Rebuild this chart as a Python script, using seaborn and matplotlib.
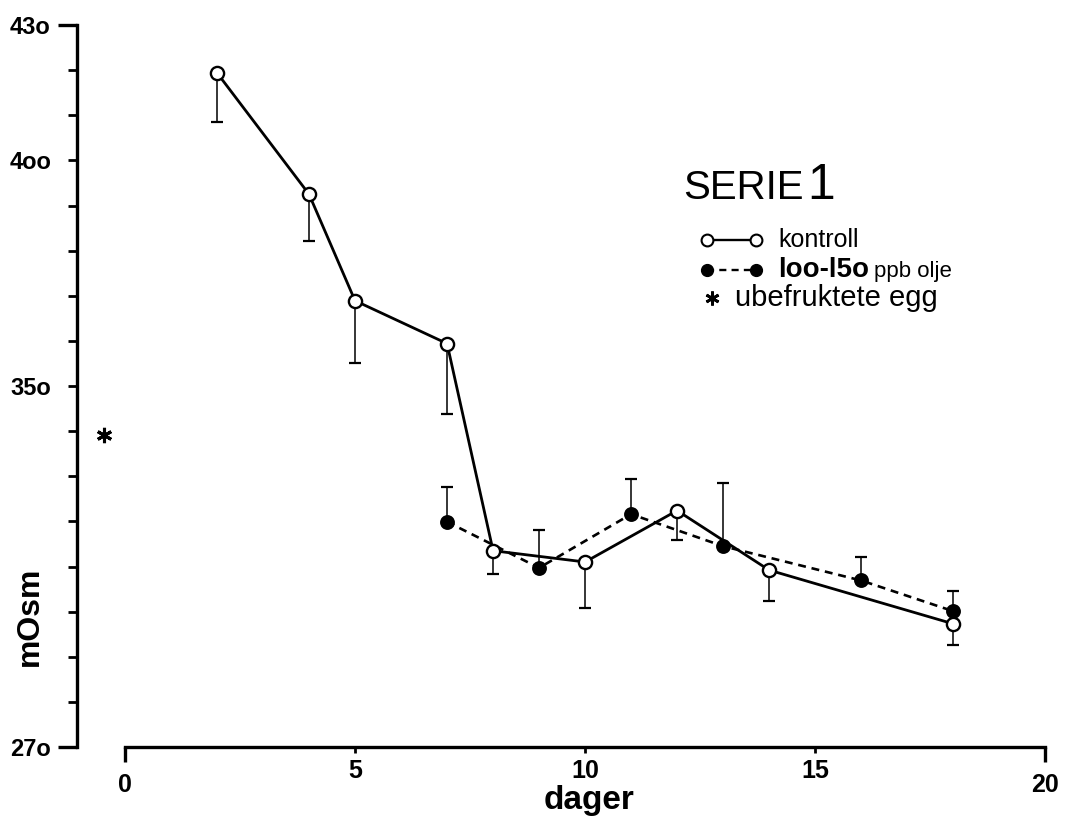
import matplotlib
matplotlib.use("Agg")
import matplotlib.pyplot as plt
import seaborn as sns
import pandas as pd
from matplotlib.lines import Line2D

# Osmolality of the control group (mean, downward SD bar)
kontroll_dager = [2, 4, 5, 7, 8, 10, 12, 14, 18]
kontroll_mosm = [419.4, 392.5, 368.9, 359.4, 313.5, 311.0, 322.4, 309.2, 297.3]
kontroll_sd = [10.8, 10.4, 13.9, 15.7, 5.2, 10.3, 6.6, 6.8, 4.7]

# Oil-exposed group, 100-150 ppb (mean, upward SD bar)
olje_dager = [7, 9, 11, 13, 16, 18]
olje_mosm = [319.9, 309.7, 321.6, 314.5, 306.9, 300.1]
olje_sd = [7.8, 8.3, 7.8, 14.1, 5.1, 4.4]

# Unfertilised eggs
egg_dag = [-0.45]
egg_mosm = [339.1]

x_major = [0, 20]
x_major_labels = ["0", "20"]
x_minor = [5, 10, 15]
x_minor_labels = ["5", "10", "15"]
y_major = [270, 430]
y_major_labels = ["27o", "43o"]
y_minor = list(range(280, 430, 10))
y_minor_labels = {400: "4oo", 350: "35o"}

sns.set_style("white")
plt.rcParams["font.family"] = ["Liberation Sans", "DejaVu Sans"]
plt.rcParams["text.color"] = "black"
plt.rcParams["axes.labelcolor"] = "black"
plt.rcParams["xtick.color"] = "black"
plt.rcParams["ytick.color"] = "black"
plt.rcParams["axes.edgecolor"] = "black"

W, H = 1068, 823
fig = plt.figure(figsize=(W / 100, H / 100), dpi=100)
ax_left, ax_right, ax_top, ax_bottom = 77, 1059, 25, 747
ax = fig.add_axes([ax_left / W, (H - ax_bottom) / H,
                   (ax_right - ax_left) / W, (ax_bottom - ax_top) / H])


def to_ax(px, py):
    return ((px - ax_left) / (ax_right - ax_left), (ax_bottom - py) / (ax_bottom - ax_top))


kontroll = pd.DataFrame({"dag": kontroll_dager, "mosm": kontroll_mosm, "sd": kontroll_sd})
olje = pd.DataFrame({"dag": olje_dager, "mosm": olje_mosm, "sd": olje_sd})

# one-sided error bars
ax.errorbar(kontroll["dag"], kontroll["mosm"], yerr=[kontroll["sd"], [0] * len(kontroll)],
            fmt="none", ecolor="black", elinewidth=1.1, capsize=4, capthick=1.6, zorder=2)
ax.errorbar(olje["dag"], olje["mosm"], yerr=[[0] * len(olje), olje["sd"]],
            fmt="none", ecolor="black", elinewidth=1.1, capsize=4, capthick=1.6, zorder=2)

sns.lineplot(data=olje, x="dag", y="mosm", ax=ax, color="black", lw=1.9,
             linestyle=(0, (3.0, 2.2)), marker="o", markersize=9.5,
             markerfacecolor="black", markeredgecolor="black", markeredgewidth=1.2, zorder=3)
sns.lineplot(data=kontroll, x="dag", y="mosm", ax=ax, color="black", lw=2.0,
             marker="o", markersize=9.5, markerfacecolor="white",
             markeredgecolor="black", markeredgewidth=1.7, zorder=4)
ax.plot(egg_dag, egg_mosm, linestyle="none", marker=(6, 2, 0), markersize=11,
        color="black", markeredgewidth=2.2)

ax.set_xlim(-1.043, 20.3)
ax.set_ylim(270, 430)

for s in ["top", "right"]:
    ax.spines[s].set_visible(False)
ax.spines["left"].set_linewidth(2.4)
ax.spines["bottom"].set_linewidth(2.4)
ax.spines["bottom"].set_bounds(0, 20)

tick_font = dict(fontsize=17, fontweight="bold")
ax.set_xticks(x_major, labels=x_major_labels, fontsize=18, fontweight="bold")
ax.set_xticks(x_minor, labels=x_minor_labels, minor=True, fontsize=18, fontweight="bold")
ax.set_yticks(y_major, labels=y_major_labels, **tick_font)
ax.set_yticks(y_minor, labels=[y_minor_labels.get(v, "") for v in y_minor], minor=True, **tick_font)

ax.tick_params(axis="x", which="major", direction="out", length=11, width=2.4, pad=8)
ax.tick_params(axis="x", which="minor", direction="out", length=4.5, width=2.0, pad=4)
ax.tick_params(axis="y", which="major", direction="out", length=14, width=2.4, pad=5)
ax.tick_params(axis="y", which="minor", direction="out", length=6.5, width=2.0, pad=12)
ax.tick_params(bottom=True, left=True, which="both")

ax.set_xlabel("dager", fontsize=24, fontweight="bold")
ax.xaxis.set_label_coords(*to_ax(589, 800))
ax.xaxis.label.set_va("center")
ax.set_ylabel("mOsm", fontsize=23, fontweight="bold")
ax.yaxis.set_label_coords(*to_ax(30, 616))
ax.yaxis.label.set_va("center")

# title and key
serie = ax.text(*to_ax(683, 199), "SERIE", transform=ax.transAxes, fontsize=29,
                ha="left", va="baseline")
fig.canvas.draw()
renderer = fig.canvas.get_renderer()
bb = serie.get_window_extent(renderer)
ax.text(*to_ax(bb.x1 + 4, 199), "1", transform=ax.transAxes, fontsize=36,
        ha="left", va="baseline")

rows = [240, 270, 298]
x0, x1 = to_ax(707, 0)[0], to_ax(756, 0)[0]
ky = to_ax(0, rows[0])[1]
ax.add_line(Line2D([x0, x1], [ky, ky], transform=ax.transAxes, color="black", lw=1.7,
                   marker="o", markersize=8.5, markerfacecolor="white", markeredgewidth=1.5))
ax.text(*to_ax(778, rows[0]), "kontroll", transform=ax.transAxes, fontsize=18,
        ha="left", va="center")
oy = to_ax(0, rows[1])[1]
ax.add_line(Line2D([x0, x1], [oy, oy], transform=ax.transAxes, color="black", lw=1.7,
                   linestyle=(0, (3.0, 2.2)), marker="o", markersize=8.5,
                   markerfacecolor="black"))
dose = ax.text(*to_ax(778, rows[1] + 7), "loo-l5o", transform=ax.transAxes, fontsize=20,
               fontweight="bold", ha="left", va="baseline")
bb = dose.get_window_extent(renderer)
ax.text(*to_ax(bb.x1 + 5, rows[1] + 7), "ppb olje", transform=ax.transAxes,
        fontsize=16, ha="left", va="baseline")
ax.plot(*to_ax(712, rows[2]), transform=ax.transAxes, linestyle="none", marker=(6, 2, 0),
        markersize=10, color="black", markeredgewidth=2.0)
ax.text(*to_ax(735, rows[2]), "ubefruktete egg", transform=ax.transAxes, fontsize=21,
        ha="left", va="center")

fig.savefig("out.png", dpi=100)
